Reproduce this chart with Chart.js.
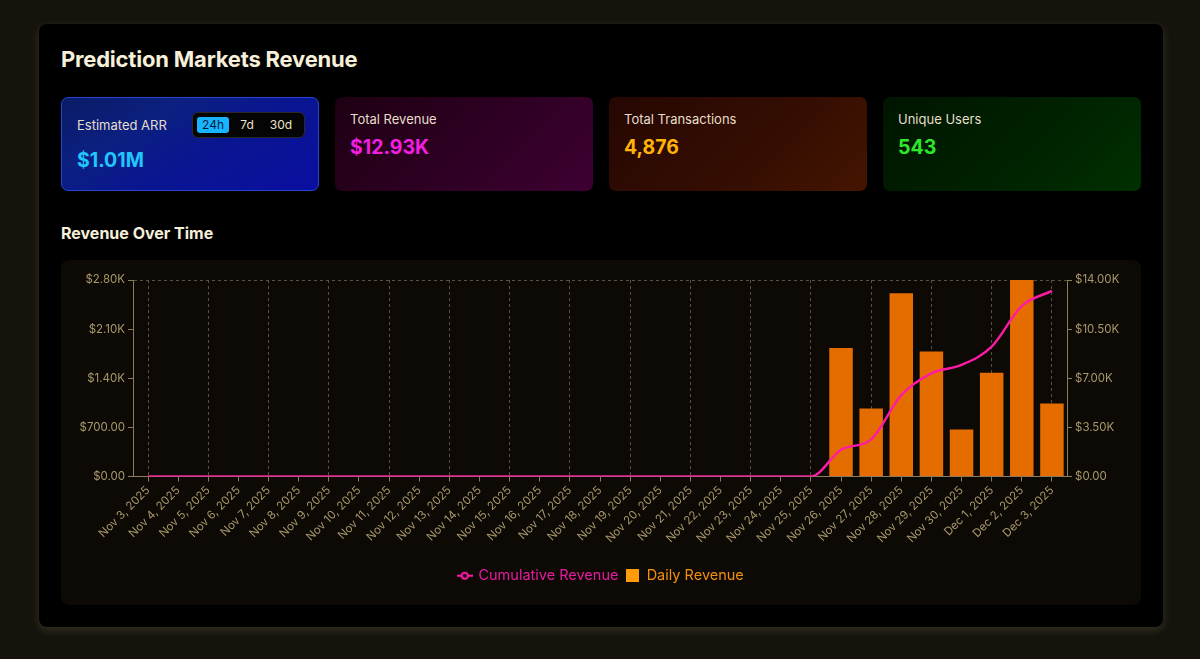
<!DOCTYPE html>
<html>
<head>
<meta charset="utf-8">
<script src="https://cdn.jsdelivr.net/npm/chart.js@4"></script>
<style>
  html,body{margin:0;padding:0;}
  body{width:1200px;height:659px;background:#15130b;font-family:Inter,"Noto Sans",sans-serif;position:relative;overflow:hidden;}
  .panel{position:absolute;left:39px;top:24px;width:1124px;height:603px;background:#000;border-radius:8px;
    box-shadow:0 3px 10px rgba(200,190,160,0.18);}
  h1{position:absolute;left:22px;top:22px;margin:0;font-size:22px;font-weight:700;color:#f6efd9;letter-spacing:-0.2px;}
  .card{position:absolute;top:73px;width:258px;height:94px;border-radius:7px;box-sizing:border-box;}
  .lbl{position:absolute;left:15px;font-size:13px;color:#e6decb;}
  .val{position:absolute;left:15px;font-size:19.5px;font-weight:700;}
  .c1{left:22px;background:linear-gradient(150deg,#0a1b66 0%,#0b2080 30%,#0a1690 55%,#0a0ea0 100%);border:1px solid #2446d0;}
  .c2{left:296px;background:linear-gradient(135deg,#1e0012 0%,#300026 60%,#3e0032 100%);}
  .c3{left:570px;background:linear-gradient(135deg,#260702 0%,#350e02 60%,#451500 100%);}
  .c4{left:844px;background:linear-gradient(135deg,#001500 0%,#002300 60%,#003000 100%);}
  .tog{position:absolute;left:130px;top:14px;width:113px;height:26px;background:#050505;border:1px solid #2a2a2a;border-radius:6px;box-sizing:border-box;font-size:12px;color:#eee3c8;}
  .tog span{position:absolute;top:4px;height:16px;line-height:16px;text-align:center;border-radius:3px;}
  h2{position:absolute;left:22px;top:199px;margin:0;font-size:16px;font-weight:700;color:#f6efd9;}
  .chartbox{position:absolute;left:22px;top:236px;width:1080px;height:345px;background:#0d0905;border-radius:8px;}
  canvas{display:block;}
</style>
</head>
<body>
<div class="panel">
  <h1>Prediction Markets Revenue</h1>
  <div class="card c1">
    <div class="lbl" style="top:19px">Estimated ARR</div>
    <div class="tog">
      <span style="left:4px;width:32px;background:#19b4ff;color:#04203a">24h</span>
      <span style="left:42px;width:24px">7d</span>
      <span style="left:74px;width:28px">30d</span>
    </div>
    <div class="val" style="top:50px;color:#22c6ff">$1.01M</div>
  </div>
  <div class="card c2">
    <div class="lbl" style="top:14px">Total Revenue</div>
    <div class="val" style="top:38px;color:#f21ee0">$12.93K</div>
  </div>
  <div class="card c3">
    <div class="lbl" style="top:14px">Total Transactions</div>
    <div class="val" style="top:38px;color:#ffb30a">4,876</div>
  </div>
  <div class="card c4">
    <div class="lbl" style="top:14px">Unique Users</div>
    <div class="val" style="top:38px;color:#2ee82a">543</div>
  </div>
  <h2>Revenue Over Time</h2>
  <div class="chartbox"><canvas id="c" width="1080" height="345"></canvas></div>
</div>
<script>
const dates = ["Nov 3, 2025","Nov 4, 2025","Nov 5, 2025","Nov 6, 2025","Nov 7, 2025","Nov 8, 2025","Nov 9, 2025","Nov 10, 2025","Nov 11, 2025","Nov 12, 2025","Nov 13, 2025","Nov 14, 2025","Nov 15, 2025","Nov 16, 2025","Nov 17, 2025","Nov 18, 2025","Nov 19, 2025","Nov 20, 2025","Nov 21, 2025","Nov 22, 2025","Nov 23, 2025","Nov 24, 2025","Nov 25, 2025","Nov 26, 2025","Nov 27, 2025","Nov 28, 2025","Nov 29, 2025","Nov 30, 2025","Dec 1, 2025","Dec 2, 2025","Dec 3, 2025"];
const dailyRevenue = [0,0,0,0,0,0,0,0,0,0,0,0,0,0,0,0,0,0,0,0,0,0,0,1830,970,2610,1780,670,1480,2830,1040];
const cumulativeRevenue = [0,0,0,0,0,0,0,0,0,0,0,0,0,0,0,0,0,0,0,0,0,0,0,1900,2650,5800,7350,7950,9250,12150,13220];
const leftTicks = [0,700,1400,2100,2800];
const rightTicks = [0,3500,7000,10500,14000];

const TICK = '#a8996c', AXIS = '#8a7c58', GRID = '#5a5140';
const PINK = '#ff1aa6', ORANGE = '#e56d00';
const fmt = v => v >= 1000 ? '$' + (v/1000).toFixed(2) + 'K' : '$' + v.toFixed(2);

function lineIcon(){
  const c = document.createElement('canvas'); c.width = 16; c.height = 10;
  const g = c.getContext('2d');
  g.strokeStyle = PINK; g.lineWidth = 2;
  g.beginPath(); g.moveTo(0,5); g.lineTo(16,5); g.stroke();
  g.fillStyle = '#0d0905'; g.beginPath(); g.arc(8,5,3,0,Math.PI*2); g.fill(); g.stroke();
  return c;
}
function boxIcon(){
  const c = document.createElement('canvas'); c.width = 13; c.height = 13;
  const g = c.getContext('2d'); g.fillStyle = '#ff9a0a'; g.fillRect(0,0,13,13);
  return c;
}
const icons = [lineIcon(), boxIcon()];
const legendColors = ['#e61ca0', '#f2900c'];

Chart.defaults.font.family = 'Inter, "Noto Sans", sans-serif';

new Chart(document.getElementById('c'), {
  type: 'bar',
  data: {
    labels: dates,
    datasets: [
      { type:'line', label:'Cumulative Revenue', data: cumulativeRevenue, yAxisID:'y2', borderColor: PINK, borderWidth: 2.4,
        pointRadius: 0, cubicInterpolationMode: 'monotone', order: 0, fill:false },
      { type:'bar', label:'Daily Revenue', data: dailyRevenue, yAxisID:'y', backgroundColor: ORANGE,
        barPercentage: 1, categoryPercentage: 0.78, order: 1 }
    ]
  },
  options: {
    responsive: false, animation: false,
    layout: { padding: { left: 0, right: 0, top: 20, bottom: 12 } },
    plugins: {
      tooltip: { enabled: false },
      legend: {
        position: 'bottom',
        labels: {
          usePointStyle: true, padding: 8, boxWidth: 13, font: { size: 14.5 },
          generateLabels: (chart) => chart.data.datasets.map((ds, i) => ({
            text: ds.label, pointStyle: icons[i], fontColor: legendColors[i],
            fillStyle: 'transparent', strokeStyle: 'transparent', lineWidth: 0, datasetIndex: i, hidden: false
          }))
        }
      }
    },
    scales: {
      x: {
        offset: true,
        grid: { offset: false, color: (c) => (c.index % 2 === 0 ? GRID : 'transparent'), borderDash: [3,3],
                tickColor: AXIS, tickLength: 5, tickBorderDash: [] },
        border: { color: AXIS, dash: [3,3] },
        ticks: { color: TICK, font: { size: 11.5 }, minRotation: 45, maxRotation: 45, autoSkip: false, padding: 2 },
        afterFit: (s) => { s.height = 84; }
      },
      y: {
        position: 'left', min: 0, max: 2800,
        afterBuildTicks: (s) => { s.ticks = leftTicks.map(v => ({ value: v })); },
        grid: { color: (c) => (c.tick && c.tick.value === 2800 ? GRID : 'transparent'), borderDash: [3,3],
                tickColor: AXIS, tickLength: 5, tickBorderDash: [] },
        border: { color: AXIS, dash: [3,3] },
        ticks: { color: TICK, font: { size: 11.5 }, padding: 3, callback: (v) => fmt(v) },
        afterFit: (s) => { s.width = 72; }
      },
      y2: {
        position: 'right', min: 0, max: 14000,
        afterBuildTicks: (s) => { s.ticks = rightTicks.map(v => ({ value: v })); },
        grid: { drawOnChartArea: false, color: AXIS, tickColor: AXIS, tickLength: 5 },
        border: { color: AXIS },
        ticks: { color: TICK, font: { size: 11.5 }, padding: 3, callback: (v) => fmt(v) },
        afterFit: (s) => { s.width = 74; }
      }
    }
  }
});
</script>
</body>
</html>
